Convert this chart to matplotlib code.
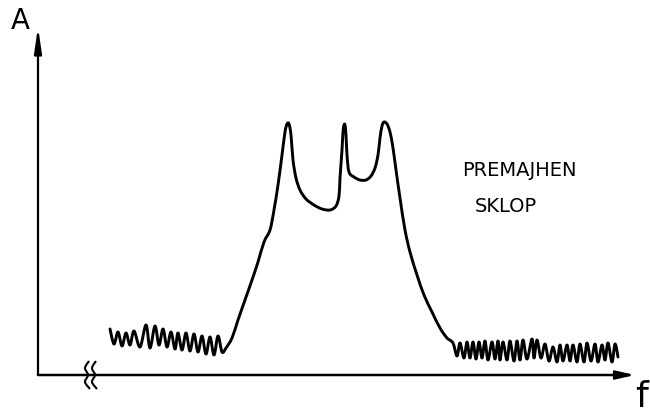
import matplotlib
matplotlib.use("Agg")
import matplotlib.pyplot as plt
from matplotlib.path import Path
from matplotlib.patches import PathPatch
import numpy as np

# Sketch of spectrum: frequency f (arbitrary units) vs amplitude A (arbitrary units)
noise_left_f = [72, 76, 80, 84, 88, 92, 96, 102, 108, 112, 117, 121, 125, 129, 133, 137,
                140, 144, 148, 152, 156, 160, 164, 168, 172, 176, 180, 184]
noise_left_A = [46, 31, 43, 29, 42, 30, 44, 28, 50, 27, 49, 30, 46, 28, 43, 26,
                42, 25, 42, 24, 41, 23, 39, 21, 38, 20, 39, 23]

band_f = [188, 194, 200, 207, 214, 220, 226, 232, 236, 240, 244, 247, 249, 251, 253, 255,
          258, 262, 268, 276, 284, 292, 298, 301, 302, 304, 305, 306, 307, 308, 309, 311,
          316, 322, 328, 333, 337, 340, 342, 344, 346, 349, 352, 355, 358, 362, 367, 372,
          379, 386, 394, 402, 409, 415]
band_A = [27, 37, 55, 75, 95, 113, 133, 145, 165, 190, 220, 243, 251, 251, 240, 215,
          197, 185, 176, 170, 166, 165, 169, 179, 197, 225, 243, 250, 250, 240, 220, 203,
          198, 195, 195, 199, 207, 220, 237, 249, 253, 251, 243, 227, 205, 177, 145, 123,
          100, 80, 63, 47, 37, 32]

noise_right_f = [419, 422, 426, 429, 432, 435, 438, 441, 444, 447, 450, 454, 457, 460, 462,
                 465, 469, 472, 476, 479, 482, 485, 489, 494, 496, 499, 503, 507, 511, 515,
                 519, 522, 525, 529, 532, 535, 539, 542, 546, 549, 553, 557, 560, 564, 567,
                 570, 574, 577, 580]
noise_right_A = [19, 32, 17, 33, 17, 33, 16, 33, 17, 34, 15, 33, 16, 34, 15,
                 33, 15, 34, 14, 34, 15, 35, 16, 36, 17, 35, 17, 31, 14, 28,
                 13, 30, 14, 30, 14, 30, 13, 31, 13, 32, 14, 31, 13, 30, 15,
                 32, 13, 31, 18]

curve_f = noise_left_f + band_f + noise_right_f
curve_A = noise_left_A + band_A + noise_right_A

# axis-break squiggles (f, A)
break_f = [[51, 47, 50, 47, 52], [58, 54, 57, 54, 59]]
break_A = [[14, 7, 0, -7, -14], [14, 7, 0, -7, -14]]

f_max, A_max = 597, 348


def smooth_path(x, y):
    """Catmull-Rom through the given points, drawn as cubic Bezier segments."""
    p = np.column_stack([x, y]).astype(float)
    pts = np.vstack([p[0], p, p[-1]])
    verts = [p[0]]
    codes = [Path.MOVETO]
    for i in range(1, len(pts) - 2):
        p0, p1, p2, p3 = pts[i - 1], pts[i], pts[i + 1], pts[i + 2]
        c1 = p1 + (p2 - p0) / 6.0
        c2 = p2 - (p3 - p1) / 6.0
        verts += [c1, c2, p2]
        codes += [Path.CURVE4] * 3
    return Path(verts, codes)


fig = plt.figure(figsize=(6.5, 4.16), dpi=100)
ax = fig.add_axes([38 / 650, 41 / 416, 597 / 650, 348 / 416])
ax.set_xlim(0, f_max)
ax.set_ylim(0, A_max)
ax.axis("off")

ax.add_patch(PathPatch(smooth_path(curve_f, curve_A), facecolor="none",
                       edgecolor="black", lw=2.1, joinstyle="round",
                       capstyle="round", clip_on=False))

for bf, bA in zip(break_f, break_A):
    ax.add_patch(PathPatch(smooth_path(bf, bA), facecolor="none",
                           edgecolor="black", lw=1.5, clip_on=False))

ax.annotate("", xy=(f_max, 0), xytext=(0, 0), annotation_clip=False,
            arrowprops=dict(arrowstyle="-|>,head_length=1.1,head_width=0.25",
                            lw=1.8, color="black", shrinkA=0, shrinkB=0))
ax.annotate("", xy=(0, A_max), xytext=(0, 0), annotation_clip=False,
            arrowprops=dict(arrowstyle="-|>,head_length=1.5,head_width=0.22",
                            lw=1.6, color="black", shrinkA=0, shrinkB=0))

fig.text(20 / 650, 1 - 21 / 416, "A", fontsize=20, ha="center", va="center")
fig.text(641 / 650, 1 - 397 / 416, "f", fontsize=26, ha="center", va="center")
fig.text(462 / 650, 1 - 171 / 416, "PREMAJHEN", fontsize=14, ha="left", va="center")
fig.text(475 / 650, 1 - 207 / 416, "SKLOP", fontsize=14, ha="left", va="center")

fig.savefig("out.png", dpi=100)
